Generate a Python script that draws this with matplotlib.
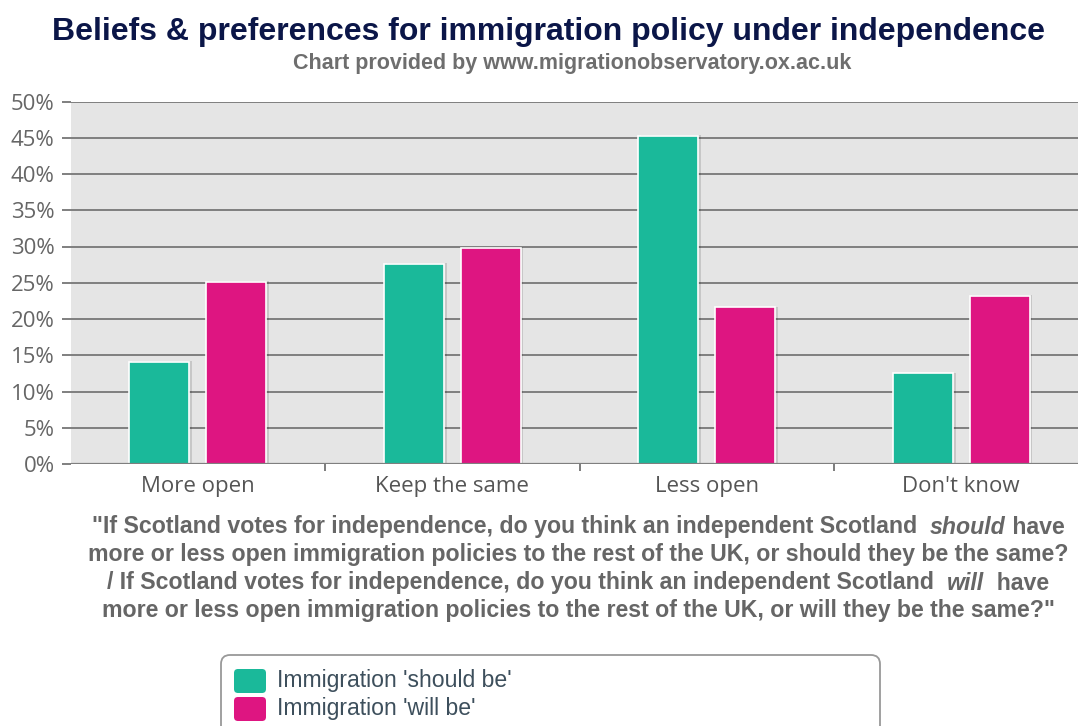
import numpy as np
import matplotlib
matplotlib.use("Agg")
import matplotlib.pyplot as plt
import matplotlib.patheffects as pe
from matplotlib.patches import FancyBboxPatch

# data
categories = ["More open", "Keep the same", "Less open", "Don't know"]
series_names = ["Immigration 'should be'", "Immigration 'will be'"]
should_be = [14.1, 27.6, 45.3, 12.5]
will_be = [25.1, 29.8, 21.6, 23.2]
y_ticks = [0, 5, 10, 15, 20, 25, 30, 35, 40, 45, 50]
colors = ["#1ab99a", "#de1581"]

W, H = 1078, 726
fig = plt.figure(figsize=(W / 100, H / 100), dpi=100)

# plot area runs a little past the right edge of the picture
ax = fig.add_axes([70.5 / W, 1 - 464 / H, 1018 / W, (464 - 101.5) / H])
ax.set_facecolor("#e5e5e5")

x = np.arange(len(categories))
bw = 0.236
off = 0.151
shadow = [pe.SimplePatchShadow(offset=(2, 0.5), shadow_rgbFace="black", alpha=0.13), pe.Normal()]
for vals, c, sgn in [(should_be, colors[0], -1), (will_be, colors[1], 1)]:
    bars = ax.bar(x + sgn * off, vals, width=bw, color=c, edgecolor="white",
                  linewidth=1.2, zorder=3)
    for b in bars:
        b.set_path_effects(shadow)

ax.set_xlim(-0.5, len(categories) - 0.5)
ax.set_ylim(0, 50)
ax.set_yticks(y_ticks)
ax.set_yticklabels([f"{t}%" for t in y_ticks])
ax.yaxis.grid(True, color="#7f7f7f", linewidth=1.4, zorder=1)
ax.set_axisbelow(True)
for s in ax.spines.values():
    s.set_visible(False)
ax.axhline(0, color="#7f7f7f", linewidth=1.6, zorder=4)

ax.tick_params(axis="y", length=6.5, width=1.4, color="#7f7f7f", pad=5,
               labelsize=16, labelcolor="#666666")
for lab in ax.get_yticklabels():
    lab.set_fontfamily("Open Sans")

ax.set_xticks(x)
ax.set_xticklabels(categories, fontfamily="Open Sans", fontsize=16, color="#555555")
for lab in ax.get_xticklabels():
    lab.set_verticalalignment("baseline")
ax.set_xticks(np.arange(0.5, len(categories) - 0.5, 1), minor=True)
ax.tick_params(axis="x", which="major", length=0, pad=20)
ax.tick_params(axis="x", which="minor", length=5, width=1.2, color="#666666")

# overlay in pixel coordinates for text and legend
ov = fig.add_axes([0, 0, 1, 1], facecolor="none")
ov.set_xlim(0, W)
ov.set_ylim(H, 0)
ov.axis("off")

ov.text(549, 32, "Beliefs & preferences for immigration policy under independence",
        ha="center", va="center", fontsize=23, fontweight="bold",
        color="#0b1648", family="Liberation Sans")
ov.text(572, 63, "Chart provided by www.migrationobservatory.ox.ac.uk",
        ha="center", va="center", fontsize=15.5, fontweight="bold",
        color="#6e6e6e", family="Liberation Sans")

caption_lines = [
    [('"If Scotland votes for independence, do you think an independent Scotland  ', "normal"),
     ("should", "italic"), (" have", "normal")],
    [("more or less open immigration policies to the rest of the UK, or should they be the same?", "normal")],
    [("/ If Scotland votes for independence, do you think an independent Scotland  ", "normal"),
     ("will", "italic"), ("  have", "normal")],
    [('more or less open immigration policies to the rest of the UK, or will they be the same?"', "normal")],
]
caption_y = [527, 555, 583, 611]

fig.canvas.draw()
renderer = fig.canvas.get_renderer()
for parts, yy in zip(caption_lines, caption_y):
    objs = []
    for s, st in parts:
        t = ov.text(0, yy, s, ha="left", va="center", fontsize=16.7, fontweight="bold",
                    style=st, color="#666666", family="Liberation Sans")
        objs.append(t)
    widths = [t.get_window_extent(renderer).width for t in objs]
    xx = 578 - sum(widths) / 2
    for t, w in zip(objs, widths):
        t.set_x(xx)
        xx += w

# legend
ov.add_patch(FancyBboxPatch((221, 655), 659, 90,
                            boxstyle="round,pad=0,rounding_size=9",
                            facecolor="white", edgecolor="#999999", linewidth=1.3,
                            clip_on=False))
for i, (name, c) in enumerate(zip(series_names, colors)):
    top = 669 + i * 28
    ov.add_patch(FancyBboxPatch((234, top), 32, 24,
                                boxstyle="round,pad=0,rounding_size=4",
                                facecolor=c, edgecolor="none"))
    ov.text(277, top + 12, name, ha="left", va="center", fontsize=16.6,
            color="#3d4f5c", family="Liberation Sans")

fig.savefig("out.png", dpi=100)
